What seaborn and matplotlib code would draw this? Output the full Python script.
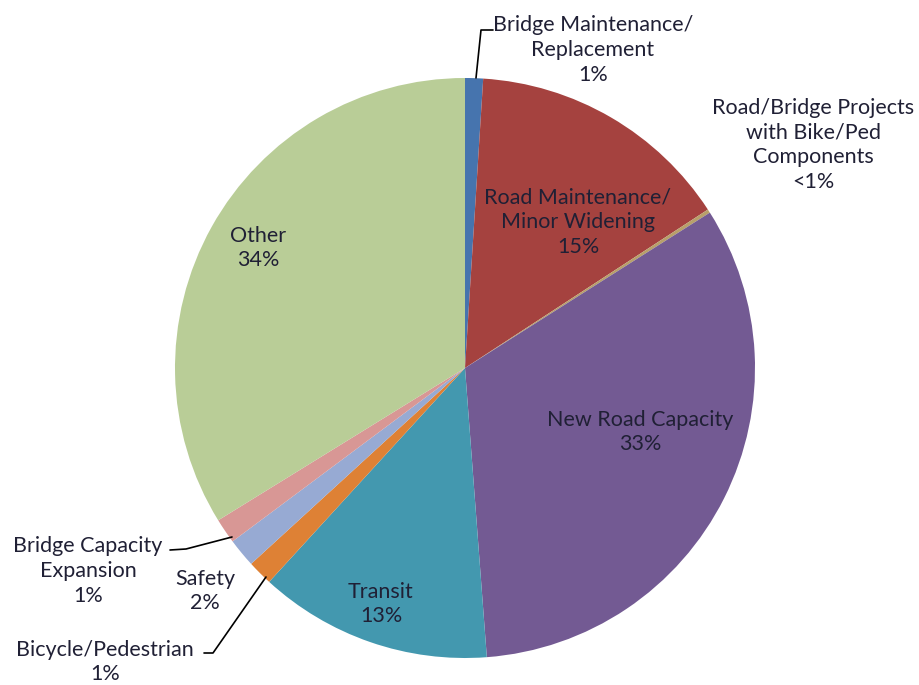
import matplotlib
matplotlib.use("Agg")
import matplotlib.pyplot as plt
import seaborn as sns

categories = ["Bridge Maintenance/\nReplacement", "Road Maintenance/\nMinor Widening",
              "Road/Bridge Projects\nwith Bike/Ped\nComponents", "New Road Capacity",
              "Transit", "Bicycle/Pedestrian", "Safety", "Bridge Capacity\nExpansion", "Other"]
values = [1.0, 14.8, 0.2, 32.8, 13.0, 1.4, 1.6, 1.4, 33.8]
pct_labels = ["1%", "15%", "<1%", "33%", "13%", "1%", "2%", "1%", "34%"]
colors = ["#4674AE", "#A5423F", "#B8A06A", "#735A93", "#4398AF",
          "#DE8135", "#97AAD3", "#D89795", "#B9CD97"]

sns.set_theme(style="white")
plt.rcParams['font.family'] = ['Lato', 'DejaVu Sans']
palette = sns.color_palette(colors)

W, H = 920, 685
cx, cy, R = 465, 368, 290
fig = plt.figure(figsize=(W / 100, H / 100), dpi=100)
ax = fig.add_axes([0, 0, 1, 1])

ax.pie(values, colors=palette, startangle=90, counterclock=False, radius=1,
       wedgeprops=dict(linewidth=0))

ax.set_xlim(-cx / R, (W - cx) / R)
ax.set_ylim(-(H - cy) / R, cy / R)
ax.set_aspect('equal')
ax.axis('off')

def P(x, y):
    return ((x - cx) / R, (cy - y) / R)

tc = "#202035"
fs = 15.5
ls = 1.3
label_pos = [(593, 50), (578, 222), (813, 145), (640, 432), (381, 604),
             (105, 662), (205, 591), (88, 571), (258, 248)]
for cat, pct, (x, y) in zip(categories, pct_labels, label_pos):
    ax.text(*P(x, y), f"{cat}\n{pct}", ha='center', va='center', fontsize=fs,
            color=tc, linespacing=ls)

leaders = [
    [(493, 30), (481, 30), (476, 78)],
    [(170, 550), (186, 549), (232, 537)],
    [(204, 653), (213, 653), (266, 577)],
]
for pts in leaders:
    xs, ys = zip(*[P(*p) for p in pts])
    ax.plot(xs, ys, color="#000000", lw=1.2)

fig.savefig("out.png", dpi=100)
